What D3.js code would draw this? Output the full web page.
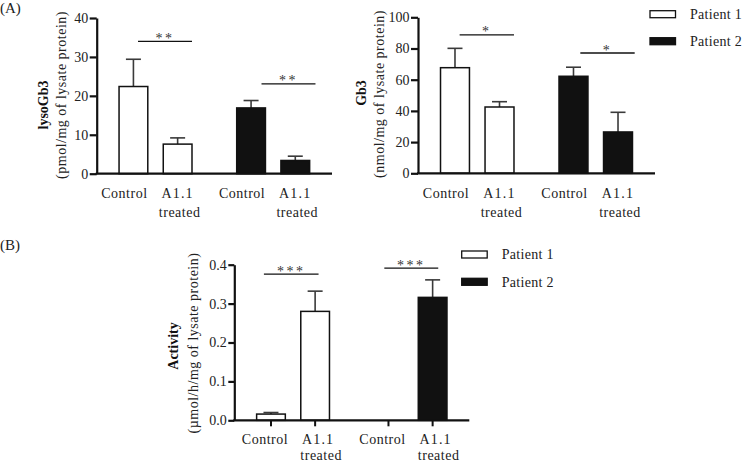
<!DOCTYPE html>
<html>
<head>
<meta charset="utf-8">
<script src="https://cdn.jsdelivr.net/npm/d3@7"></script>
<style>
  html, body { margin: 0; padding: 0; background: #fff; }
  svg { display: block; font-family: "Liberation Serif", "Times New Roman", serif; }
</style>
</head>
<body>
<svg id="chart" width="745" height="463"></svg>
<script>
// ---------------- DATA ----------------
const categories = ["Control", "A1.1 treated"];
const patients = ["Patient 1", "Patient 2"];

// lysoGb3 (pmol/mg of lysate protein)
const lysoMean = [[22.4, 7.6], [16.9, 3.4]];
const lysoErr  = [[7.0, 1.6], [1.9, 1.1]];
const lysoTicks = [0, 10, 20, 30, 40];
const lysoSig = ["**", "**"];
const lysoSigLevel = [34.0, 23.1];

// Gb3 (nmol/mg of lysate protein)
const gb3Mean = [[67.7, 42.5], [62.2, 26.5]];
const gb3Err  = [[12.4, 3.4], [5.8, 12.6]];
const gb3Ticks = [0, 20, 40, 60, 80, 100];
const gb3Sig = ["*", "*"];
const gb3SigLevel = [88.7, 77.1];

// Activity (µmol/h/mg of lysate protein)
const actMean = [[0.016, 0.280], [0.0, 0.316]];
const actErr  = [[0.004, 0.052], [0.0, 0.045]];
const actTicks = [0.0, 0.1, 0.2, 0.3, 0.4];
const actSig = ["***", "***"];
const actSigLevel = [0.376, 0.391];

const fills = ["#ffffff", "#111111"];

// ---------------- LAYOUT ----------------
const svg = d3.select("#chart");

const panels = [
  { mean: lysoMean, err: lysoErr, ticks: lysoTicks, fmt: d3.format("d"), sig: lysoSig, sigLevel: lysoSigLevel,
    x0: 96.7, x1: 332, yBottom: 173.7, yTop: 18, tickSize: 7, xTicks: false,
    title: "lysoGb3", titleX: 43, titleY: 105, unit: "(pmol/mg of lysate protein)", unitX: 61, unitY: 95,
    sigSpan: [[0.26, 1.0], [0.34, 1.08]], labelBase: 198, line2: 18.5, ctrlOff: -9, aOff: 0, tOff: 2 },
  { mean: gb3Mean, err: gb3Err, ticks: gb3Ticks, fmt: d3.format("d"), sig: gb3Sig, sigLevel: gb3SigLevel,
    x0: 418, x1: 655, yBottom: 173.3, yTop: 17.3, tickSize: 7, xTicks: false,
    title: "Gb3", titleX: 361, titleY: 93, unit: "(nmol/mg of lysate protein)", unitX: 379, unitY: 94,
    sigSpan: [[0.26, 1.0], [0.29, 1.03]], labelBase: 198, line2: 18.5, ctrlOff: -9, aOff: 0, tOff: 2,
    legend: { x: 650, y: 10.7, dy: 27, textX: 690 } },
  { mean: actMean, err: actErr, ticks: actTicks, fmt: d3.format(".1f"), sig: actSig, sigLevel: actSigLevel,
    x0: 234.3, x1: 469.3, yBottom: 420.3, yTop: 264.7, tickSize: 6, xTicks: true,
    title: "Activity", titleX: 173, titleY: 346, unit: "(µmol/h/mg of lysate protein)", unitX: 193, unitY: 343,
    sigSpan: [[0.10, 0.85], [0.14, 0.88]], labelBase: 443.5, line2: 16.5, ctrlOff: -6, aOff: 3, tOff: 6,
    legend: { x: 461.7, y: 251, dy: 27.3, textX: 501.7 } }
];

panels.forEach(p => {
  const g = svg.append("g");
  const y = d3.scaleLinear().domain([p.ticks[0], p.ticks[p.ticks.length - 1]]).range([p.yBottom, p.yTop]);
  const xg = d3.scaleBand().domain(patients).range([p.x0, p.x1]).paddingInner(0.38).paddingOuter(0.19);
  const xi = d3.scaleBand().domain(categories).range([0, xg.bandwidth()]).paddingInner(0.35).paddingOuter(0);
  const bw = xi.bandwidth();

  // bars
  patients.forEach((pt, pi) => {
    categories.forEach((c, ci) => {
      const v = p.mean[pi][ci], e = p.err[pi][ci];
      const bx = xg(pt) + xi(c);
      const cx = bx + bw / 2;
      // error bar (upper only)
      if (e > 0) {
        g.append("line").attr("x1", cx).attr("x2", cx).attr("y1", y(v)).attr("y2", y(v + e))
          .attr("stroke", "#3a3a3a").attr("stroke-width", 1.6);
        g.append("line").attr("x1", cx - 7.5).attr("x2", cx + 7.5).attr("y1", y(v + e)).attr("y2", y(v + e))
          .attr("stroke", "#3a3a3a").attr("stroke-width", 1.6);
      }
      if (v > 0) {
        g.append("rect").attr("x", bx).attr("y", y(v)).attr("width", bw).attr("height", y(0) - y(v))
          .attr("fill", fills[pi]).attr("stroke", "#111").attr("stroke-width", 1.5);
      }
      // x labels
      const words = c.split(" ");
      if (words.length === 1) {
        g.append("text").attr("x", cx + p.ctrlOff).attr("y", p.labelBase).attr("text-anchor", "middle")
          .attr("font-size", 14).attr("letter-spacing", 0.5).attr("fill", "#222").text(words[0]);
      } else {
        g.append("text").attr("x", cx + p.aOff).attr("y", p.labelBase).attr("text-anchor", "middle")
          .attr("font-size", 14).attr("letter-spacing", 1.2).attr("fill", "#222").text(words[0]);
        g.append("text").attr("x", cx + p.tOff).attr("y", p.labelBase + p.line2).attr("text-anchor", "middle")
          .attr("font-size", 14).attr("letter-spacing", 0.5).attr("fill", "#222").text(words[1]);
      }
      if (p.xTicks) {
        g.append("line").attr("x1", cx).attr("x2", cx).attr("y1", y(0)).attr("y2", y(0) + 6)
          .attr("stroke", "#111").attr("stroke-width", 2);
      }
    });

    // significance line + stars
    const gx = xg(pt), gw = xg.bandwidth();
    const sy = y(p.sigLevel[pi]);
    const sx1 = gx + gw * p.sigSpan[pi][0], sx2 = gx + gw * p.sigSpan[pi][1];
    g.append("line").attr("x1", sx1).attr("x2", sx2).attr("y1", sy).attr("y2", sy)
      .attr("stroke", "#111").attr("stroke-width", 1.3);
    g.append("text").attr("x", (sx1 + sx2) / 2).attr("y", sy + 1.5).attr("text-anchor", "middle")
      .attr("font-size", 14).attr("letter-spacing", 2.5).attr("fill", "#333").text(p.sig[pi]);
  });

  // y axis
  const ax = g.append("g").attr("transform", `translate(${p.x0},0)`)
    .call(d3.axisLeft(y).tickValues(p.ticks).tickFormat(p.fmt).tickSize(p.tickSize).tickSizeOuter(0).tickPadding(1.5));
  ax.select(".domain").attr("stroke", "#111").attr("stroke-width", 2.2);
  ax.selectAll(".tick line").attr("stroke", "#111").attr("stroke-width", 2.2);
  ax.selectAll(".tick text").attr("font-size", 14).attr("font-family", "Liberation Serif, serif").attr("fill", "#222");

  // x axis line
  g.append("line").attr("x1", p.x0 - 1).attr("x2", p.x1).attr("y1", y(0)).attr("y2", y(0))
    .attr("stroke", "#111").attr("stroke-width", 2.2);

  // axis titles
  g.append("text").attr("transform", `translate(${p.titleX},${p.titleY}) rotate(-90)`).attr("dy", "0.35em")
    .attr("text-anchor", "middle").attr("font-weight", "bold").attr("font-size", 14).attr("fill", "#111").text(p.title);
  g.append("text").attr("transform", `translate(${p.unitX},${p.unitY}) rotate(-90)`).attr("dy", "0.35em")
    .attr("text-anchor", "middle").attr("font-size", 14).attr("letter-spacing", 0.5).attr("fill", "#222").text(p.unit);

  // legend
  if (p.legend) {
    patients.forEach((pt, pi) => {
      g.append("rect").attr("x", p.legend.x).attr("y", p.legend.y + pi * p.legend.dy).attr("width", 25.5).attr("height", 7)
        .attr("fill", fills[pi]).attr("stroke", "#111").attr("stroke-width", 1.3);
      g.append("text").attr("x", p.legend.textX).attr("y", p.legend.y + pi * p.legend.dy + 3.5).attr("dy", "0.35em")
        .attr("font-size", 14).attr("letter-spacing", 0.3).attr("fill", "#222").text(pt);
    });
  }
});

// panel letters
svg.append("text").attr("x", 0).attr("y", 13).attr("font-size", 15).attr("fill", "#222").text("(A)");
svg.append("text").attr("x", 0).attr("y", 250).attr("font-size", 15).attr("fill", "#222").text("(B)");
</script>
</body>
</html>
